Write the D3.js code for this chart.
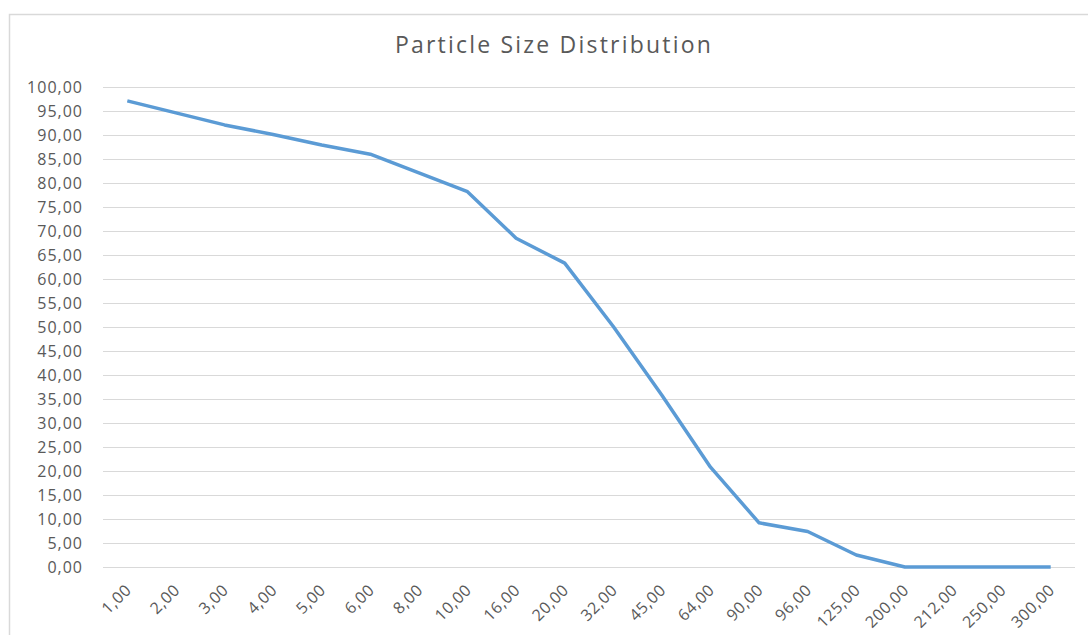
<!DOCTYPE html>
<html>
<head>
<meta charset="utf-8">
<script src="https://cdn.jsdelivr.net/npm/d3@7"></script>
<style>
  body { margin: 0; background: #fff; }
  text { font-family: "Open Sans", sans-serif; }
</style>
</head>
<body>
<div id="chart"></div>
<script>
// Particle size distribution chart
var WIDTH = 1088;
var HEIGHT = 635;
var MARGIN = {top: 87, right: 13, bottom: 68, left: 103};

// data
var sizes = ["1,00", "2,00", "3,00", "4,00", "5,00", "6,00", "8,00", "10,00", "16,00", "20,00",
             "32,00", "45,00", "64,00", "90,00", "96,00", "125,00", "200,00", "212,00", "250,00", "300,00"];
var passing = [97.1, 94.6, 92.1, 90.1, 87.9, 86.0, 82.1, 78.2, 68.5, 63.3,
               50.1, 35.8, 20.8, 9.2, 7.4, 2.5, 0, 0, 0, 0];
var yTicks = d3.range(0, 101, 5);

var fmt = function (v) { return v.toFixed(2).replace(".", ","); };

var svg = d3.select("#chart").append("svg")
    .attr("width", WIDTH)
    .attr("height", HEIGHT);

// chart area border
svg.append("rect")
    .attr("x", 9.5).attr("y", 14.5)
    .attr("width", WIDTH).attr("height", HEIGHT)
    .attr("fill", "none")
    .attr("stroke", "#d9d9d9")
    .attr("stroke-width", 1.5);

svg.append("text")
    .attr("x", 554).attr("y", 53)
    .attr("text-anchor", "middle")
    .style("font-size", "23px")
    .style("letter-spacing", "2.2px")
    .style("fill", "#595959")
    .text("Particle Size Distribution");

var x = d3.scaleBand()
    .domain(sizes)
    .range([MARGIN.left, WIDTH - MARGIN.right]);

var y = d3.scaleLinear()
    .domain([0, 100])
    .range([HEIGHT - MARGIN.bottom, MARGIN.top]);

// gridlines + y labels
var yAxis = svg.append("g")
    .attr("transform", "translate(" + MARGIN.left + ",0)")
    .call(d3.axisLeft(y).tickValues(yTicks).tickFormat(fmt)
        .tickSize(-(WIDTH - MARGIN.right - MARGIN.left)).tickPadding(20));
yAxis.select(".domain").remove();
yAxis.selectAll("line").attr("stroke", "#d9d9d9").attr("stroke-width", 1.2);
yAxis.selectAll("text")
    .style("font-size", "16px")
    .style("letter-spacing", "1px")
    .style("fill", "#595959");

// x labels, rotated
var xAxis = svg.append("g")
    .attr("transform", "translate(0," + (HEIGHT - MARGIN.bottom) + ")")
    .call(d3.axisBottom(x).tickSize(0).tickPadding(0));
xAxis.select(".domain").remove();
xAxis.selectAll("text")
    .attr("text-anchor", "end")
    .attr("dy", null)
    .attr("transform", "translate(5,24) rotate(-45)")
    .attr("y", 0)
    .style("font-size", "16px")
    .style("letter-spacing", "0.6px")
    .style("fill", "#595959");

var line = d3.line()
    .x(function (d, i) { return x(sizes[i]) + x.bandwidth() / 2; })
    .y(function (d) { return y(d); });

svg.append("path")
    .datum(passing)
    .attr("d", line)
    .attr("fill", "none")
    .attr("stroke", "#5b9bd5")
    .attr("stroke-width", 3.5)
    .attr("stroke-linejoin", "round");
</script>
</body>
</html>
